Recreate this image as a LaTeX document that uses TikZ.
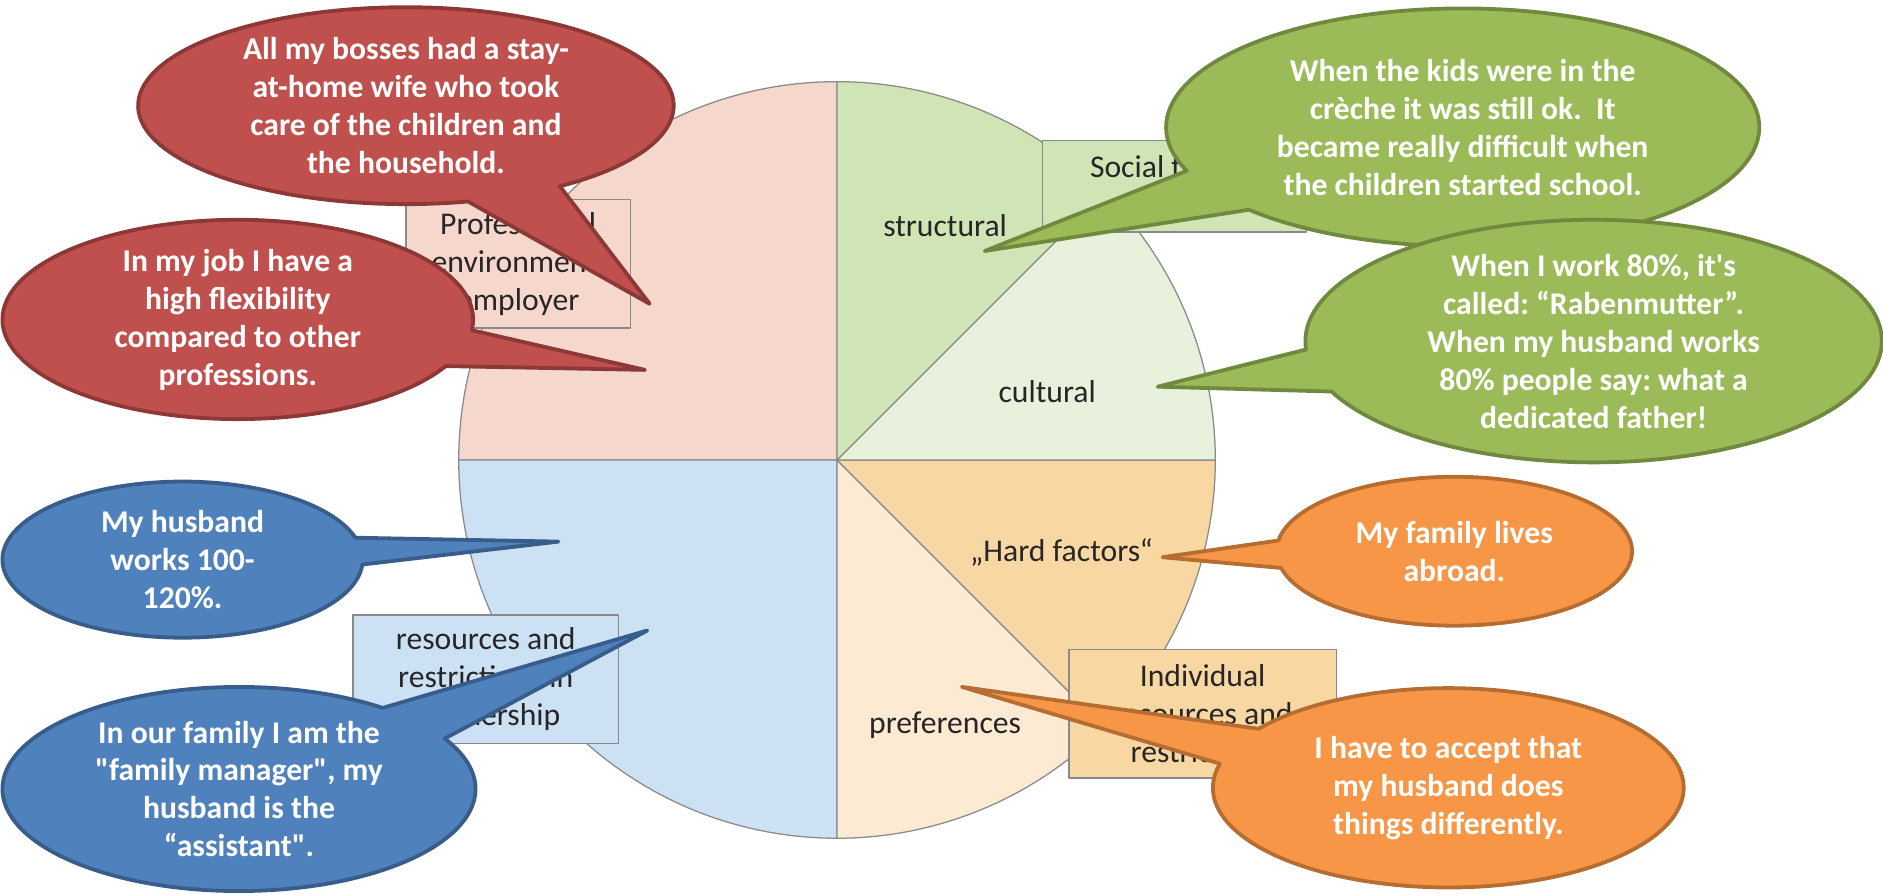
\documentclass[tikz,border=0pt]{standalone}
\usepackage{fontspec}
\setmainfont{Carlito}[Ligatures=TeXOff]
\frenchspacing

% segment fills
\definecolor{segprof}{HTML}{F6D7CB}
\definecolor{segstruct}{HTML}{D0E5B5}
\definecolor{segcult}{HTML}{E8F1DB}
\definecolor{seghard}{HTML}{F8D7A3}
\definecolor{segpref}{HTML}{FCEAD3}
\definecolor{segpart}{HTML}{CCE2F4}
\definecolor{pieline}{HTML}{8A8A8A}
\definecolor{labeltext}{HTML}{262626}
% speech bubble colours
\definecolor{redfill}{HTML}{C0504D}
\definecolor{redline}{HTML}{8C3836}
\definecolor{greenfill}{HTML}{9BBB59}
\definecolor{greenline}{HTML}{71893F}
\definecolor{bluefill}{HTML}{4F81BD}
\definecolor{blueline}{HTML}{385D8A}
\definecolor{orangefill}{HTML}{F79646}
\definecolor{orangeline}{HTML}{B66D31}

\tikzset{
  wedge/.style={draw=pieline, line width=0.6pt},
  pielabel/.style={font=\fontsize{15}{18}\selectfont, text=labeltext, inner sep=0pt},
  factorbox/.style={rectangle, draw=pieline, line width=0.7pt, align=center,
    font=\fontsize{15}{18}\selectfont, text=labeltext, inner sep=0pt},
  bubble/.style={line width=1.8pt, line join=round},
  redbubble/.style={bubble, fill=redfill, draw=redline},
  greenbubble/.style={bubble, fill=greenfill, draw=greenline},
  bluebubble/.style={bubble, fill=bluefill, draw=blueline},
  orangebubble/.style={bubble, fill=orangefill, draw=orangeline},
  quote/.style={text=white, align=center, inner sep=0pt,
    font=\bfseries\fontsize{15}{18}\selectfont},
}

% speech bubble: #1 style, #2 centre, #3 x radius, #4 y radius,
% #5 start angle, #6 end angle of the rim, #7 pointer tip
\newcommand\speechbubble[7]{%
  \path[#1] (#2) ++(#5:#3 and #4)
    arc[start angle=#5, end angle=#6, x radius=#3, y radius=#4] -- (#7) -- cycle;}

\begin{document}
\begin{tikzpicture}[x=0.02cm, y=0.02cm, line join=round]
\useasboundingbox (0,0) rectangle (1568,-744);

% ---- pie of factors ----
\coordinate (P) at (697,-383);
\filldraw[wedge, fill=segprof]   (P) -- ++(90:315)  arc[start angle=90,  end angle=180, radius=315] -- cycle;
\filldraw[wedge, fill=segpart]   (P) -- ++(180:315) arc[start angle=180, end angle=270, radius=315] -- cycle;
\filldraw[wedge, fill=segpref]   (P) -- ++(270:315) arc[start angle=270, end angle=315, radius=315] -- cycle;
\filldraw[wedge, fill=seghard]   (P) -- ++(315:315) arc[start angle=315, end angle=360, radius=315] -- cycle;
\filldraw[wedge, fill=segcult]   (P) -- ++(0:315)   arc[start angle=0,   end angle=45,  radius=315] -- cycle;
\filldraw[wedge, fill=segstruct] (P) -- ++(45:315)  arc[start angle=45,  end angle=90,  radius=315] -- cycle;

\node[pielabel] (lstruct) at (787,-188) {structural};
\node[pielabel] (lcult)   at (872,-326) {cultural};
\node[pielabel] (lhard)   at (884,-460) {„Hard factors“};
\node[pielabel] (lpref)   at (787,-604) {preferences};

% ---- factor boxes ----
\node[factorbox, fill=segprof, minimum width=3.74cm, minimum height=2.14cm]
  (bprof) at (431.5,-219.5) {Professional\\environment,\\employer};
\node[factorbox, fill=segstruct, minimum width=4.4cm, minimum height=1.52cm, text depth=0.66cm]
  (bsoc) at (978,-155) {Social factors};
\node[factorbox, fill=segpart, minimum width=4.42cm, minimum height=2.14cm]
  (bpart) at (404.5,-565.5) {resources and\\restrictions in\\partnership};
\node[factorbox, fill=seghard, minimum width=4.46cm, minimum height=2.14cm]
  (bind) at (1001.5,-594.5) {Individual\\resources and\\restrictions};

% ---- quotation bubbles: centres and pointer tips ----
\coordinate (cr1) at (338,-88);   \coordinate (tr1) at (541,-253);
\coordinate (cr2) at (198,-266);  \coordinate (tr2) at (537,-308);
\coordinate (cb1) at (152,-466);  \coordinate (tb1) at (465,-451);
\coordinate (cb2) at (199,-657);  \coordinate (tb2) at (539,-525);
\coordinate (cg1) at (1218,-106); \coordinate (tg1) at (820,-209);
\coordinate (cg2) at (1327,-284); \coordinate (tg2) at (964,-322);
\coordinate (co1) at (1211,-459); \coordinate (to1) at (968,-464);
\coordinate (co2) at (1206,-656); \coordinate (to2) at (801,-572);

\speechbubble{redbubble}{cr1}{223}{82}{-54.9}{283.4}{tr1}
\node[quote] (qr1) at (cr1)
  {All my bosses had a stay-\\at-home wife who took\\care of the children and\\the household.};
\speechbubble{redbubble}{cr2}{196}{83}{-6.2}{332.1}{tr2}
\node[quote] (qr2) at (cr2)
  {In my job I have a\\high flexibility\\compared to other\\professions.};

\speechbubble{bluebubble}{cb1}{150}{65}{16.3}{356.4}{tb1}
\node[quote] (qb1) at (cb1)
  {My husband\\works 100-\\120\%.};
\speechbubble{bluebubble}{cb2}{197}{85}{52.6}{389.6}{tb2}
\node[quote] (qb2) at (cb2)
  {In our family I am the\\"family manager", my\\husband is the\\“assistant".};

\speechbubble{greenbubble}{cg1}{247}{99}{223.9}{561.5}{tg1}
\node[quote] (qg1) at (cg1)
  {When the kids were in the\\crèche it was still ok.\ \ It\\became really difficult when\\the children started school.};
\speechbubble{greenbubble}{cg2}{240}{101}{204.6}{544.0}{tg2}
\node[quote] (qg2) at (cg2)
  {When I work 80\%, it's\\called: “Rabenmutter”.\\When my husband works\\80\% people say: what a\\dedicated father!};

\speechbubble{orangebubble}{co1}{148}{62}{193}{531.7}{to1}
\node[quote] (qo1) at (co1)
  {My family lives\\abroad.};
\speechbubble{orangebubble}{co2}{196}{83}{166}{503.7}{to2}
\node[quote] (qo2) at (co2)
  {I have to accept that\\my husband does\\things differently.};
\end{tikzpicture}
\end{document}
